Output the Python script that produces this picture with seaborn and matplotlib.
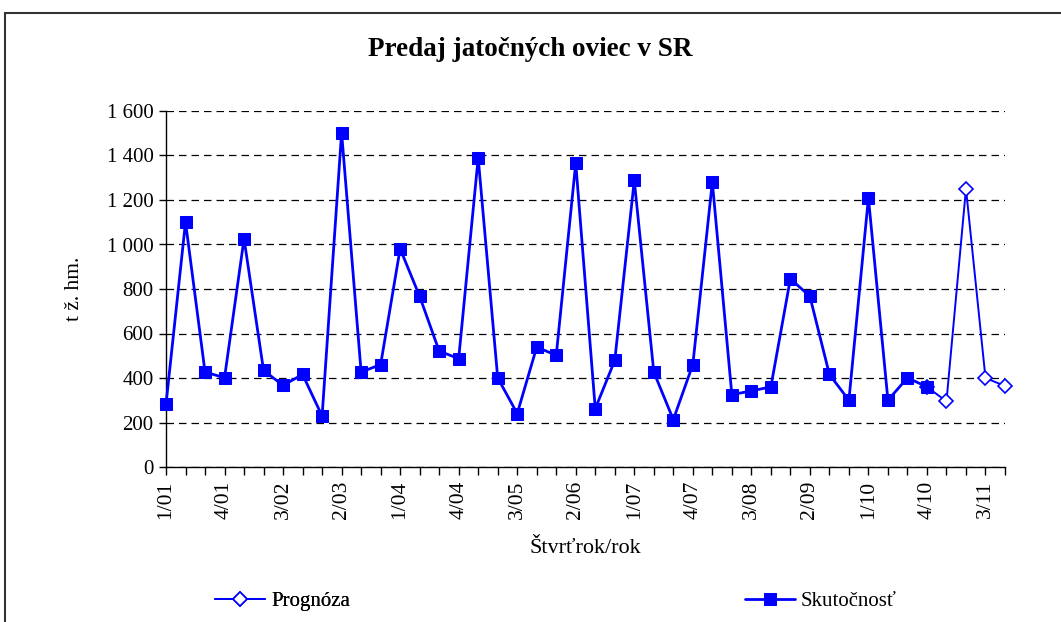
import matplotlib
matplotlib.use("Agg")
import matplotlib.pyplot as plt
import seaborn as sns
from matplotlib.patches import Rectangle
from matplotlib.ticker import FuncFormatter

# quarters 1/01 .. 4/11
quarters = ["1/01", "2/01", "3/01", "4/01", "1/02", "2/02", "3/02", "4/02",
            "1/03", "2/03", "3/03", "4/03", "1/04", "2/04", "3/04", "4/04",
            "1/05", "2/05", "3/05", "4/05", "1/06", "2/06", "3/06", "4/06",
            "1/07", "2/07", "3/07", "4/07", "1/08", "2/08", "3/08", "4/08",
            "1/09", "2/09", "3/09", "4/09", "1/10", "2/10", "3/10", "4/10",
            "1/11", "2/11", "3/11", "4/11"]

# Skutočnosť (actual), quarters 1/01 .. 4/10
actual = [282, 1101, 427, 401, 1026, 434, 367, 416,
          229, 1503, 427, 460, 981, 767, 521, 487,
          1390, 401, 240, 539, 502, 1366, 262, 479,
          1288, 427, 213, 460, 1281, 325, 342, 360,
          846, 767, 416, 300, 1210, 300, 401, 360]

# Prognóza (forecast), quarters 4/10 .. 4/11
forecast_q = ["4/10", "1/11", "2/11", "3/11", "4/11"]
forecast = [360, 295, 1251, 400, 364]


def main():
    sns.set_theme(style="white")
    plt.rcParams['font.family'] = ['Liberation Serif', 'DejaVu Serif']
    for k in ['text.color', 'axes.labelcolor', 'xtick.color', 'ytick.color']:
        plt.rcParams[k] = 'black'

    fig = plt.figure(figsize=(10.61, 6.22), dpi=100)
    ax = fig.add_axes([166 / 1061, 155 / 622, (1005 - 166) / 1061, (467 - 111) / 622])

    pos = {q: i for i, q in enumerate(quarters)}
    x_act = [pos[q] for q in quarters[:len(actual)]]
    x_fc = [pos[q] for q in forecast_q]

    sns.lineplot(x=x_fc, y=forecast, ax=ax, color='#0000ff', lw=1.4,
                 marker='D', markersize=7, markerfacecolor='white',
                 markeredgecolor='#0000ff', markeredgewidth=1.2,
                 clip_on=False, zorder=3, label='Prognóza', legend=False)
    sns.lineplot(x=x_act, y=actual, ax=ax, color='#0000ff', lw=2,
                 marker='s', markersize=8, markerfacecolor='#0000ff',
                 markeredgecolor='#0000ff', clip_on=False, zorder=4,
                 label='Skutočnosť', legend=False)

    ax.set_xlim(0, len(quarters) - 1)
    ax.set_ylim(0, 1600)
    ax.set_xticks(range(len(quarters)))
    ax.set_xticklabels([q if i % 3 == 0 else "" for i, q in enumerate(quarters)],
                       rotation=90, fontsize=15.5)
    ax.set_yticks(range(0, 1601, 200))
    ax.yaxis.set_major_formatter(FuncFormatter(lambda v, p: f"{int(v):,}".replace(",", " ")))
    ax.tick_params(axis='y', labelsize=15, length=5, width=1, direction='out', left=True, pad=4)
    ax.tick_params(axis='x', length=6, width=1, direction='out', bottom=True, pad=4)

    ax.grid(axis='y', color='black', linestyle=(0, (6, 4)), linewidth=0.9)
    ax.grid(axis='x', visible=False)
    for s in ['top', 'right']:
        ax.spines[s].set_visible(False)
    for s in ['left', 'bottom']:
        ax.spines[s].set_color('black')
        ax.spines[s].set_linewidth(1)

    ax.set_xlabel('Štvrťrok/rok', fontsize=16, labelpad=14)
    ax.set_ylabel('t ž. hm.', fontsize=15.5)
    ax.yaxis.set_label_coords(-0.098, 0.5)

    fig.text(530 / 1061, 1 - 50 / 622, 'Predaj jatočných oviec v SR',
             ha='center', va='center', fontsize=19.5, fontweight='bold')

    h = ax.get_lines()
    leg1 = fig.legend([h[0]], ['Prognóza'], loc='center left',
                      bbox_to_anchor=(196 / 1061, 1 - 601 / 622), frameon=False,
                      fontsize=15, handlelength=2.4, handletextpad=0.3)
    fig.add_artist(leg1)
    fig.legend([h[1]], ['Skutočnosť'], loc='center left',
               bbox_to_anchor=(726 / 1061, 1 - 601 / 622), frameon=False,
               fontsize=15, handlelength=2.4, handletextpad=0.3)

    fig.patches.append(Rectangle((5 / 1061, -0.1), 1.2, 1 - 13 / 622 + 0.1,
                                 transform=fig.transFigure, fill=False,
                                 edgecolor='#333333', linewidth=1.5))

    fig.savefig('out.png', dpi=100)


if '__main__' == __name__:
    main()
